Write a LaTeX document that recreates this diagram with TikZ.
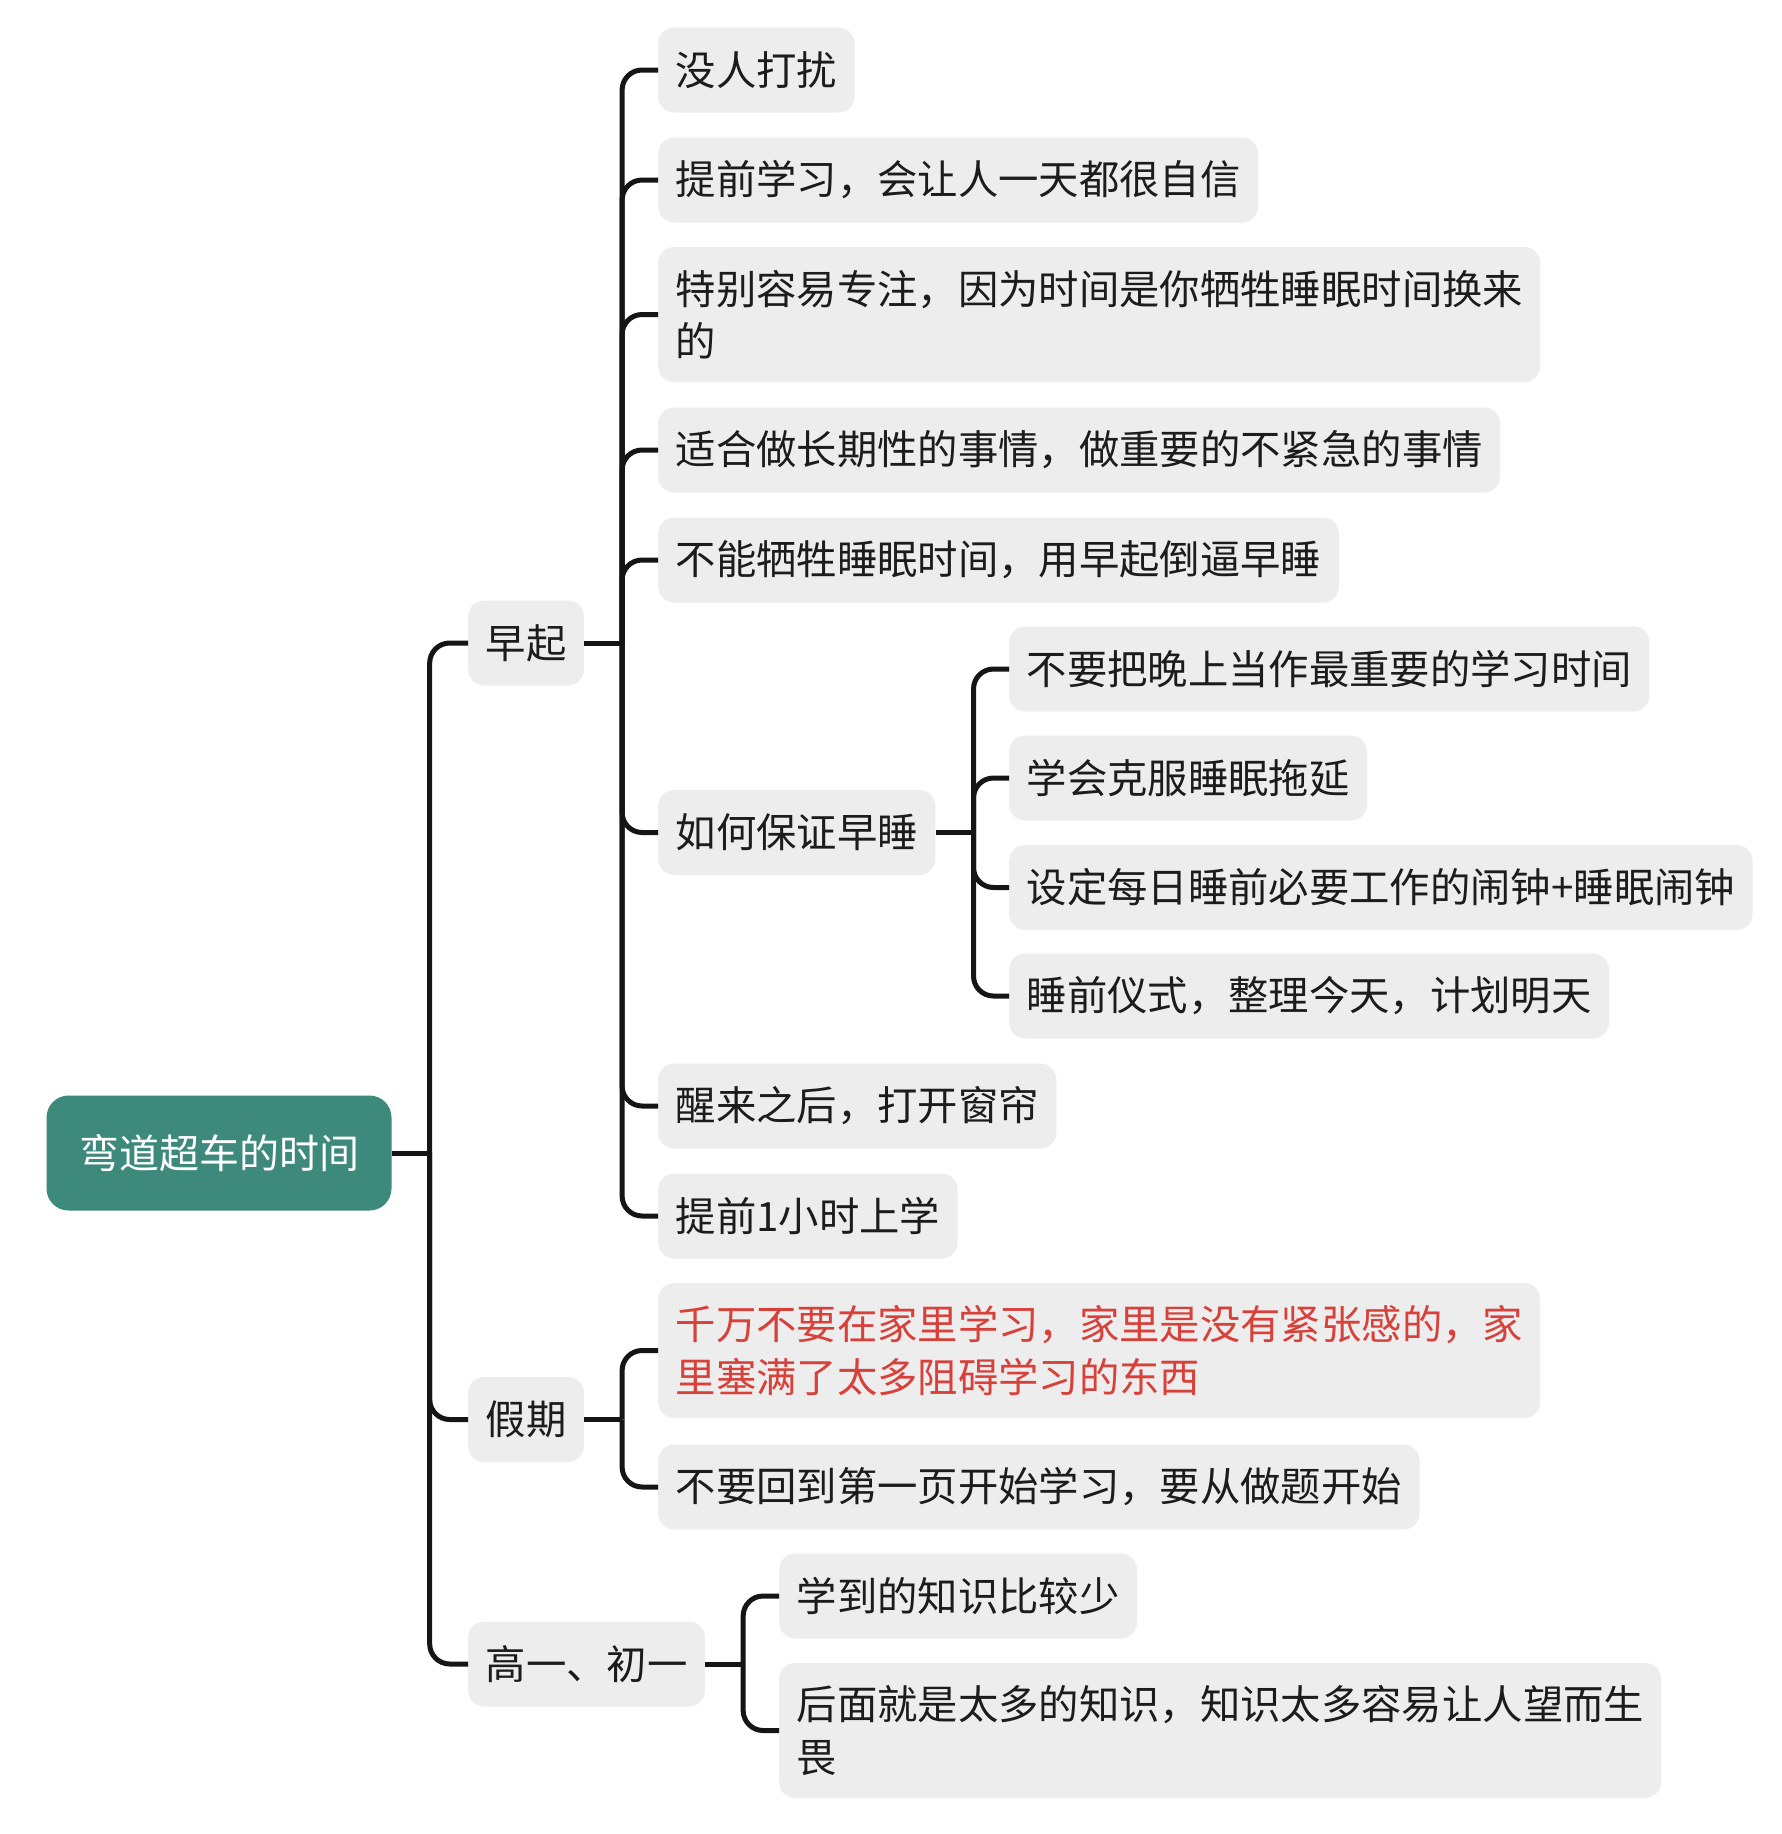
\documentclass[tikz,border=0pt]{standalone}
\usepackage{fontspec}
\setmainfont{Noto Sans CJK SC}
\usetikzlibrary{calc}
\definecolor{boxgray}{HTML}{EDEDED}
\definecolor{rootgreen}{HTML}{3D897C}
\definecolor{inkblack}{HTML}{1C1C1C}
\definecolor{linkblack}{HTML}{151515}
\definecolor{alertred}{HTML}{D8403A}
\tikzset{
  leaf/.style={fill=boxgray, rounded corners=16pt, inner xsep=17.5pt, inner ysep=0pt,
    minimum height=85pt, anchor=west, text=inkblack,
    font=\fontsize{40.35pt}{52.6pt}\selectfont},
  twoline/.style={leaf, text width=847pt, align=left, minimum height=135pt},
  rootbox/.style={fill=rootgreen, rounded corners=22pt, text=white, minimum width=345pt,
    minimum height=115pt, inner sep=0pt, font=\fontsize{40pt}{48pt}\selectfont},
  conn/.style={draw=linkblack, line width=5pt},
  branch/.style={conn, rounded corners=20pt}
}
\newcommand\stub[1]{\draw[conn] (#1.east) -- ++(38,0);}
\newcommand\twig[2]{\draw[branch] ($(#1.east)+(38,0)$) |- (#2.west);}
\begin{document}
\begin{tikzpicture}[x=1pt,y=-1pt]
\fill[white] (0,0) rectangle (1782,1834);
\useasboundingbox (0,0) rectangle (1782,1834);

\node[rootbox] (root) at (219,1153) {弯道超车的时间};

\node[leaf] (zq) at (468,643) {早起};
\node[leaf] (jq) at (468,1419.5) {假期};
\node[leaf] (gy) at (468,1664) {高一、初一};

\node[leaf] (a1) at (658,70) {没人打扰};
\node[leaf] (a2) at (658,180) {提前学习，会让人一天都很自信};
\node[twoline] (a3) at (658,314.5) {特别容易专注，因为时间是你牺牲睡眠时间换来\\的};
\node[leaf] (a4) at (658,450) {适合做长期性的事情，做重要的不紧急的事情};
\node[leaf] (a5) at (658,560) {不能牺牲睡眠时间，用早起倒逼早睡};
\node[leaf] (a6) at (658,832.5) {如何保证早睡};
\node[leaf] (a7) at (658,1106) {醒来之后，打开窗帘};
\node[leaf] (a8) at (658,1216) {提前1小时上学};

\node[leaf] (b1) at (1009,669) {不要把晚上当作最重要的学习时间};
\node[leaf] (b2) at (1009,778) {学会克服睡眠拖延};
\node[leaf] (b3) at (1009,887.5) {设定每日睡前必要工作的闹钟+睡眠闹钟};
\node[leaf] (b4) at (1009,996) {睡前仪式，整理今天，计划明天};

\node[twoline, text=alertred] (c1) at (658,1350.5) {千万不要在家里学习，家里是没有紧张感的，家\\里塞满了太多阻碍学习的东西};
\node[leaf] (c2) at (658,1487) {不要回到第一页开始学习，要从做题开始};

\node[leaf] (d1) at (779,1596) {学到的知识比较少};
\node[twoline] (d2) at (779,1730.5) {后面就是太多的知识，知识太多容易让人望而生\\畏};

\stub{root}
\foreach \c in {zq,jq,gy} {\twig{root}{\c}}
\stub{zq}
\foreach \c in {a1,a2,a3,a4,a5,a6,a7,a8} {\twig{zq}{\c}}
\stub{a6}
\foreach \c in {b1,b2,b3,b4} {\twig{a6}{\c}}
\stub{jq}
\foreach \c in {c1,c2} {\twig{jq}{\c}}
\stub{gy}
\foreach \c in {d1,d2} {\twig{gy}{\c}}
\end{tikzpicture}
\end{document}
